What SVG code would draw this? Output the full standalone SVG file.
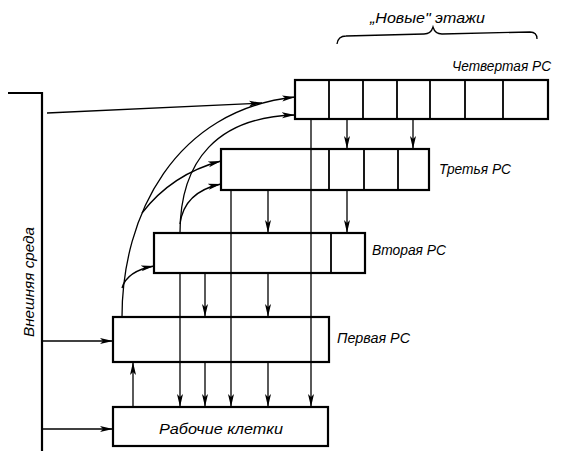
<svg xmlns="http://www.w3.org/2000/svg" width="565" height="454" viewBox="0 0 565 454">
<defs>
<marker id="ah" markerWidth="14" markerHeight="8" refX="13" refY="4" orient="auto" markerUnits="userSpaceOnUse">
<path d="M0,1 L13,4 L0,7 L3,4 Z" fill="#000"/>
</marker>
<style>
.box{fill:none;stroke:#000;stroke-width:2.2}
.div{stroke:#000;stroke-width:1.8}
.ln{fill:none;stroke:#000;stroke-width:1.3}
.ar{fill:none;stroke:#000;stroke-width:1.3;marker-end:url(#ah)}
.t{font-family:"Liberation Sans",Arial,sans-serif;font-style:italic;font-size:15.5px;fill:#000}
</style>
</defs>
<rect width="565" height="454" fill="#fff"/>

<g id="env">
<path class="box" d="M8,93 L42,93 L42,451"/>
<text class="t" transform="translate(34,337) rotate(-90)" textLength="110" lengthAdjust="spacingAndGlyphs">Внешняя среда</text>
</g>

<g id="pc4">
<rect class="box" x="295" y="80" width="253" height="39"/>
<path class="div" d="M329,80V119 M363,80V119 M397,80V119 M430,80V119 M465,80V119 M503,80V119"/>
<text class="t" x="452" y="71" textLength="99" lengthAdjust="spacingAndGlyphs">Четвертая РС</text>
</g>

<g id="pc3">
<rect class="box" x="221" y="149" width="208" height="41"/>
<path class="div" d="M329,149V190 M364,149V190 M398,149V190"/>
<text class="t" x="439" y="174" textLength="72" lengthAdjust="spacingAndGlyphs">Третья РС</text>
</g>

<g id="pc2">
<rect class="box" x="154" y="233" width="211" height="40"/>
<path class="div" d="M331,233V273"/>
<text class="t" x="372" y="255" textLength="74" lengthAdjust="spacingAndGlyphs">Вторая РС</text>
</g>

<g id="pc1">
<rect class="box" x="113" y="317" width="216" height="45"/>
<text class="t" x="337" y="343" textLength="73" lengthAdjust="spacingAndGlyphs">Первая РС</text>
</g>

<g id="cells">
<rect class="box" x="113" y="407" width="215" height="39"/>
<text class="t" x="159" y="434" textLength="124" lengthAdjust="spacingAndGlyphs">Рабочие клетки</text>
</g>

<g id="newfloors">
<path class="ln" stroke-width="1.8" d="M337,44 Q338,36 346,36 L424,34 Q431,34 433,27 Q435,34 442,34 L530,32 Q537,32 537,39"/>
<text class="t" x="370" y="23" textLength="115" lengthAdjust="spacingAndGlyphs">„Новые" этажи</text>
</g>

<g id="connectors">
<!-- from environment -->
<path class="ar" d="M47,113 L262,103"/>
<path class="ar" d="M43,341 L113,341"/>
<path class="ar" d="M43,429 L113,429"/>
<!-- curves from first PC -->
<path class="ar" d="M122,317 C122,215 175,110 295,97"/>
<path class="ar" d="M142,213 Q172,174 221,161"/>
<path class="ar" d="M122,288 Q127,271 154,266"/>
<!-- curves from second PC -->
<path class="ar" d="M180,233 C180,160 218,117 295,115"/>
<path class="ar" d="M180,224 Q184,192 221,184"/>
<!-- downward arrows -->
<path class="ar" d="M347,119 L347,149"/>
<path class="ar" d="M413,119 L413,149"/>
<path class="ar" d="M268,190 L268,233"/>
<path class="ar" d="M347,190 L347,233"/>
<path class="ar" d="M205,273 L205,317"/>
<path class="ar" d="M268,273 L268,317"/>
<path class="ar" d="M205,362 L205,407"/>
<path class="ar" d="M268,362 L268,407"/>
<path class="ar" d="M180,273 L180,407"/>
<path class="ar" d="M231,190 L231,407"/>
<path class="ar" d="M311,119 L311,407"/>
<!-- up arrow -->
<path class="ar" d="M133,407 L133,362"/>
</g>
</svg>
